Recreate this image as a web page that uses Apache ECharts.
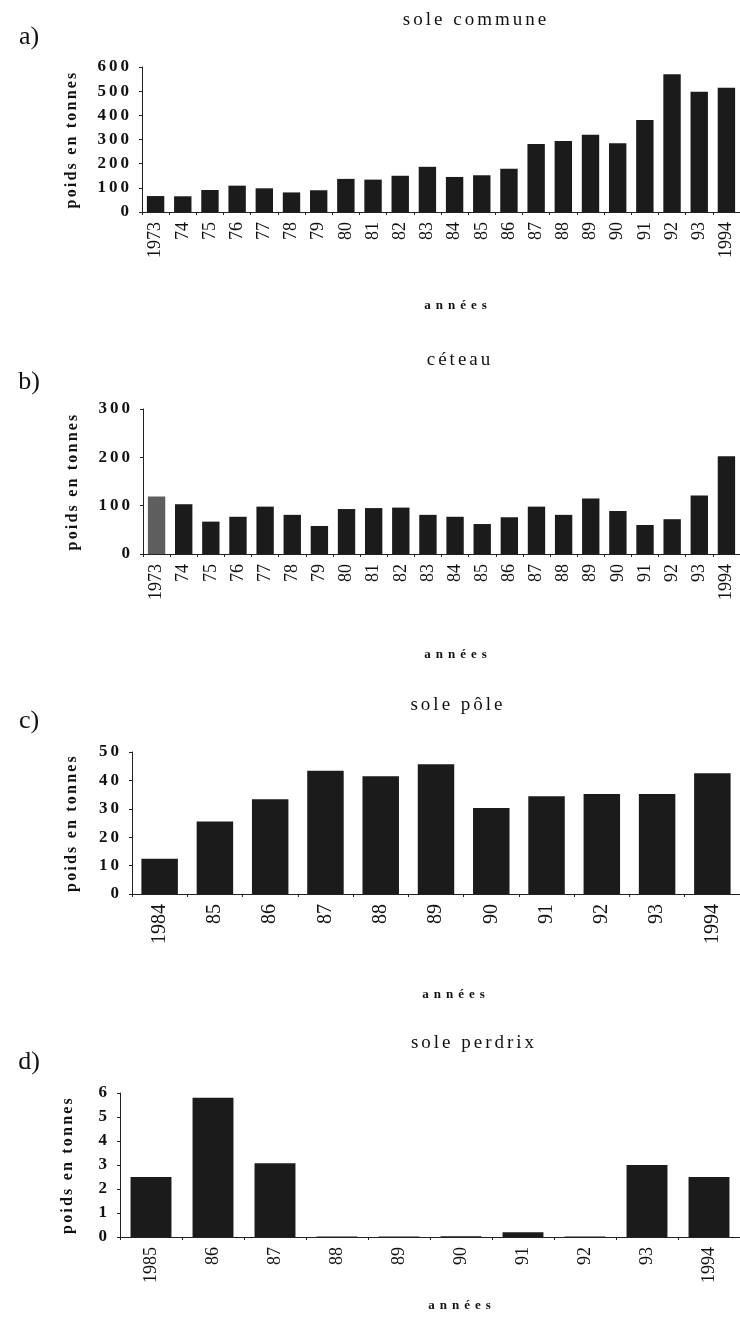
<!DOCTYPE html>
<html>
<head>
<meta charset="utf-8">
<script src="https://cdn.jsdelivr.net/npm/echarts@6/dist/echarts.min.js"></script>
<style>
html,body{margin:0;padding:0;background:#fff;}
#main{width:740px;height:1322px;}
</style>
</head>
<body>
<div id="main"></div>
<script>
// ---- data ----
const yearsA = ['1973','74','75','76','77','78','79','80','81','82','83','84','85','86','87','88','89','90','91','92','93','1994'];
const soleCommune = [66,65,91,109,98,81,90,137,134,150,187,145,152,179,281,294,320,285,381,570,498,514];
const yearsB = ['1973','74','75','76','77','78','79','80','81','82','83','84','85','86','87','88','89','90','91','92','93','1994'];
const ceteau = [119,103,67,77,98,81,58,93,95,96,81,77,62,76,98,81,115,89,60,72,121,202];
const yearsC = ['1984','85','86','87','88','89','90','91','92','93','1994'];
const solePole = [12.4,25.5,33.4,43.4,41.5,45.7,30.3,34.4,35.2,35.2,42.5];
const yearsD = ['1985','86','87','88','89','90','91','92','93','1994'];
const solePerdrix = [2.5,5.8,3.07,0.02,0.02,0.03,0.2,0.02,3.0,2.5];
const titles = ['sole commune','céteau','sole pôle','sole perdrix'];
const panelLetters = ['a)','b)','c)','d)'];
const xName = 'années';
const yName = 'poids en tonnes';
const yMax = [600,300,50,6];
const yInterval = [100,100,10,1];

// letter spacing for the typeset look (canvas letterSpacing keyed on font size)
(function(){
  const P = CanvasRenderingContext2D.prototype;
  const orig = P.fillText;
  const spacing = {'17px':'3px','19px':'3px','13px':'5px','16px':'2.2px'};
  P.fillText = function(t, x, y, m){
    if ('letterSpacing' in this) {
      const mm = /(\d+(?:\.\d+)?px)/.exec(this.font || '');
      this.letterSpacing = (mm && spacing[mm[1]]) || '0px';
    }
    return m === undefined ? orig.call(this, t, x, y) : orig.call(this, t, x, y, m);
  };
})();

// ---- layout ----
const SERIF = '"Liberation Serif", serif';
const grids = [
  {left:142, top:67,   width:600, height:145},
  {left:143, top:409,  width:600, height:145},
  {left:132, top:752,  width:615, height:142},
  {left:120, top:1093, width:629, height:144}
];
const titlePos = [[476,20],[460,360],[458,705],[474,1043]];
const letterPos = [[29,37],[29,382],[29,721],[29,1062]];
const xNamePos = [[458,306],[458,655],[456,995],[462,1306]];
const xLabelSize = [18,18,20,18];
const cats = [yearsA, yearsB, yearsC, yearsD];
const vals = [soleCommune, ceteau, solePole, solePerdrix];

const chart = echarts.init(document.getElementById('main'), null, {renderer:'canvas', width:740, height:1322});

const option = {
  backgroundColor:'#ffffff',
  animation:false,
  grid: grids.map(g => Object.assign({containLabel:false}, g)),
  xAxis: cats.map((c,i) => ({
    type:'category', gridIndex:i, data:c,
    axisLine:{lineStyle:{color:'#222', width:1}},
    axisTick:{show:true, length:3, lineStyle:{color:'#222'}},
    axisLabel:{interval:0, rotate:90, margin:10, fontFamily:SERIF, fontSize:xLabelSize[i], fontWeight:'normal', color:'#111'}
  })),
  yAxis: vals.map((v,i) => ({
    type:'value', gridIndex:i, min:0, max:yMax[i], interval:yInterval[i],
    name:yName, nameLocation:'middle', nameGap: (i===3 ? 44 : (i===2 ? 52 : 62)),
    nameTextStyle:{fontFamily:SERIF, fontSize:16, fontWeight:'bold', color:'#111'},
    axisLine:{show:true, lineStyle:{color:'#222', width:1}},
    axisTick:{show:true, length:3, lineStyle:{color:'#222'}},
    splitLine:{show:false},
    axisLabel:{margin:10, fontFamily:SERIF, fontSize:17, fontWeight:'bold', color:'#111'}
  })),
  series: vals.map((v,i) => ({
    type:'bar', xAxisIndex:i, yAxisIndex:i, data:v,
    barCategoryGap: i<2 ? '36%' : '34%',
    itemStyle:{color: p => (i===1 && p.dataIndex===0) ? '#5e5e5e' : '#1b1b1b'}
  })),
  graphic: [].concat(
    titles.map((t,i) => ({type:'text', x:titlePos[i][0], y:titlePos[i][1],
      style:{text:t, fontFamily:SERIF, fontSize:19, fontWeight:'normal', fill:'#111', align:'center', verticalAlign:'middle'}})),
    panelLetters.map((t,i) => ({type:'text', x:letterPos[i][0], y:letterPos[i][1],
      style:{text:t, fontFamily:SERIF, fontSize:26, fontWeight:'normal', fill:'#111', align:'center', verticalAlign:'middle'}})),
    xNamePos.map((p,i) => ({type:'text', x:p[0], y:p[1],
      style:{text:xName, fontFamily:SERIF, fontSize:13, fontWeight:'bold', fill:'#111', align:'center', verticalAlign:'middle'}}))
  )
};
chart.setOption(option);
</script>
</body>
</html>
